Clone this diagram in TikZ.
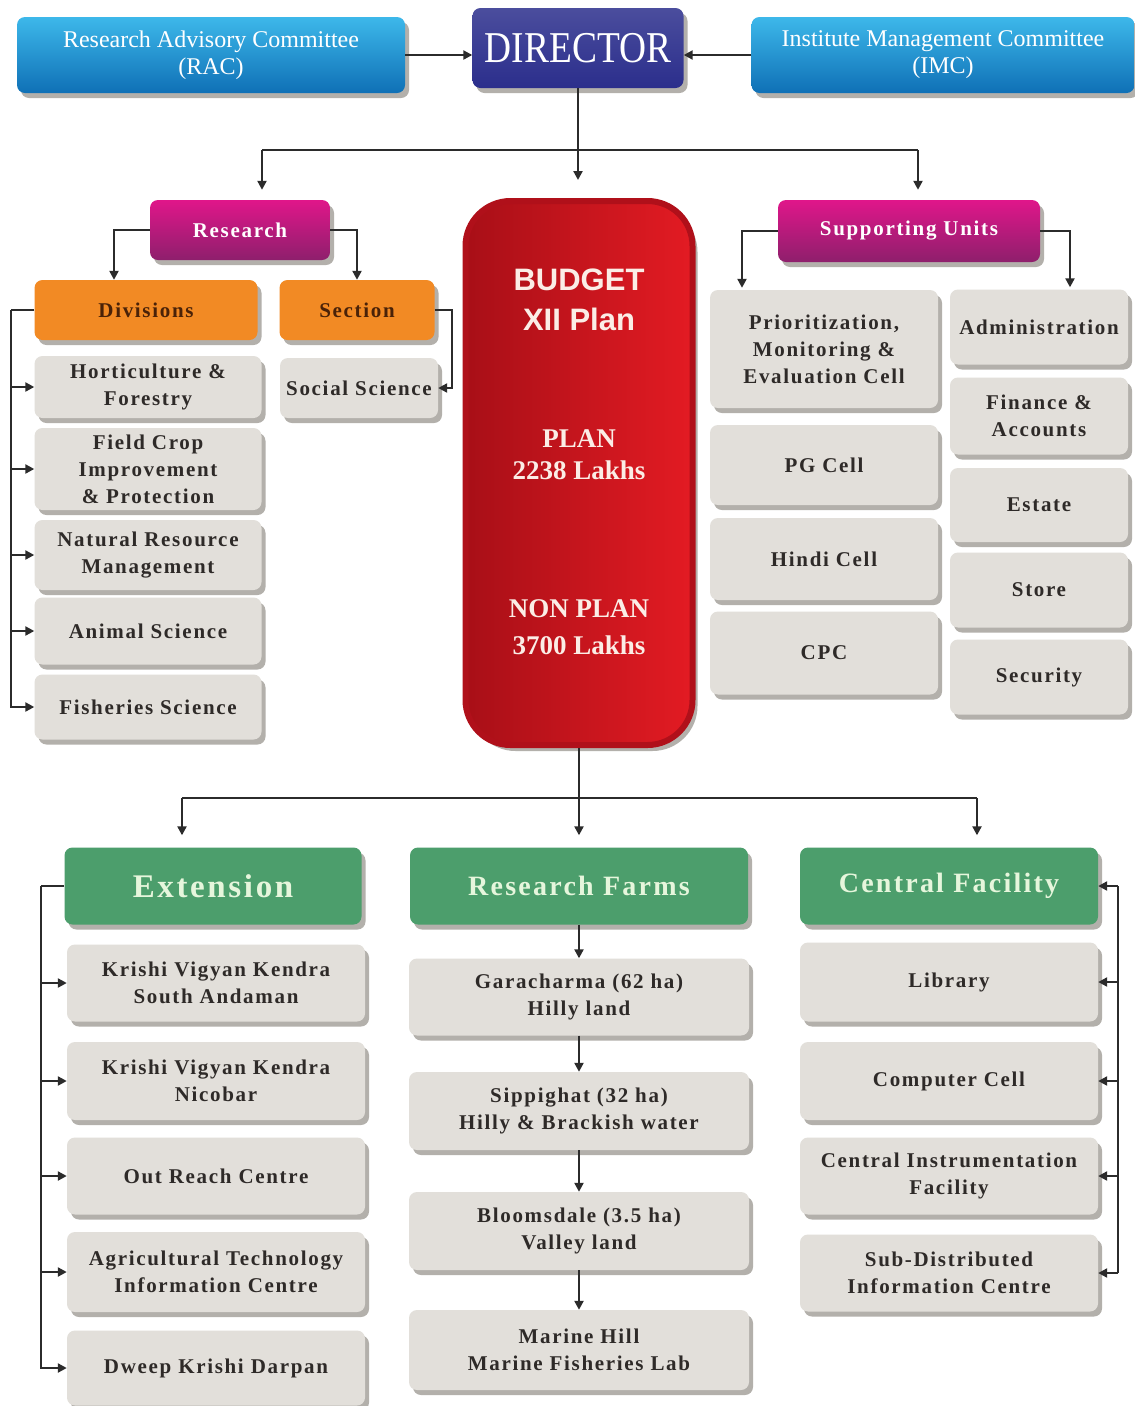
\documentclass[tikz,border=0pt]{standalone}
\usepackage{fontspec}
\usetikzlibrary{arrows.meta,shadows,calc}
\newfontfamily\bodyf[LetterSpace=8]{Liberation Serif}
\newfontfamily\topf{Liberation Serif}
\newfontfamily\dirf[FakeStretch=0.85]{Liberation Serif}
\newfontfamily\budf{Liberation Sans}
\definecolor{boxgray}{HTML}{E2DFDA}
\definecolor{shadowc}{HTML}{B3B0AB}
\definecolor{textdark}{HTML}{2E2A28}
\definecolor{linec}{HTML}{2B2B2B}
\definecolor{bluetop}{HTML}{3DB8EA}
\definecolor{bluebot}{HTML}{0F70B6}
\definecolor{navy}{HTML}{2B2E8C}
\definecolor{magtop}{HTML}{E0168A}
\definecolor{magbot}{HTML}{8E1F6C}
\definecolor{orangec}{HTML}{F28A24}
\definecolor{divtext}{HTML}{4A2208}
\definecolor{greenc}{HTML}{4C9E6C}
\definecolor{greentext}{HTML}{E6F6DC}
\definecolor{redl}{HTML}{A80F17}
\definecolor{redr}{HTML}{E31B23}
\definecolor{redborder}{HTML}{B0101A}
\definecolor{budtextc}{HTML}{FBEDE6}
\begin{document}
\begin{tikzpicture}[x=1pt,y=-1pt,
  base/.style={rounded corners=8pt, inner sep=0pt, align=center,
    drop shadow={shadow xshift=4pt,shadow yshift=-5pt,fill=shadowc,opacity=1}},
  gbox/.style={base, fill=boxgray, text=textdark,
    font=\bodyf\bfseries\fontsize{21}{27}\selectfont},
  bluebox/.style={base, top color=bluetop, bottom color=bluebot, text=white,
    font=\topf\fontsize{24}{27}\selectfont},
  magbox/.style={base, top color=magtop, bottom color=magbot, text=white,
    font=\bodyf\bfseries\fontsize{21}{27}\selectfont},
  orbox/.style={base, fill=orangec, text=divtext,
    font=\bodyf\bfseries\fontsize{21}{27}\selectfont},
  grbox/.style={base, fill=greenc, text=greentext,
    font=\bodyf\bfseries\fontsize{28}{32}\selectfont},
  budtext/.style={text=budtextc, align=center, inner sep=0pt},
  conn/.style={draw=linec, line width=2.2pt},
  arr/.style={conn, -{Triangle[length=9pt,width=9pt]}}
]
\useasboundingbox (0,0) rectangle (1135,1406);
\fill[white] (0,0) rectangle (1135,1406);

% top row
\node[bluebox, minimum width=388pt, minimum height=76pt] (rac) at (211,55) {Research Advisory Committee\\(RAC)};
\node[base, top color=navy!85!white, bottom color=navy, text=white, minimum width=211pt, minimum height=80pt,
  font=\dirf\fontsize{44}{44}\selectfont] (director) at (578,48) {DIRECTOR};
\node[bluebox, minimum width=383pt, minimum height=76pt] (imc) at (943,55) {Institute Management Committee\\(IMC)};

% research side
\node[magbox, minimum width=180pt, minimum height=60pt] (research) at (240,230) {Research};
\node[orbox, minimum width=223pt, minimum height=60pt] (divisions) at (146,310) {Divisions};
\node[orbox, minimum width=155pt, minimum height=60pt] (section) at (357,310) {Section};
\node[gbox, minimum width=158pt, minimum height=60pt] (social) at (359,388) {Social Science};
\node[gbox, minimum width=227pt, minimum height=62pt] (hort) at (148,387) {Horticulture \&\\Forestry};
\node[gbox, minimum width=227pt, minimum height=82pt] (field) at (148,469) {Field Crop\\Improvement\\\& Protection};
\node[gbox, minimum width=227pt, minimum height=70pt] (nrm) at (148,555) {Natural Resource\\Management};
\node[gbox, minimum width=227pt, minimum height=67pt] (animal) at (148,631) {Animal Science};
\node[gbox, minimum width=227pt, minimum height=65pt] (fish) at (148,707) {Fisheries Science};

% budget
\node[draw=redborder, line width=6pt, left color=redl, right color=redr, rounded corners=45pt,
  minimum width=227pt, minimum height=544pt,
  drop shadow={shadow xshift=5pt,shadow yshift=-6pt,fill=shadowc,opacity=1}] (budget) at (579,473) {};
\node[budtext, font=\budf\bfseries\fontsize{31}{40}\selectfont] (bud1) at (579,300) {BUDGET\\XII Plan};
\node[budtext, font=\topf\bfseries\fontsize{27}{32}\selectfont] (bud2) at (579,455) {PLAN\\2238 Lakhs};
\node[budtext, font=\topf\bfseries\fontsize{27}{37}\selectfont] (bud3) at (579,627) {NON PLAN\\3700 Lakhs};

% supporting units
\node[magbox, minimum width=262pt, minimum height=62pt] (support) at (909,231) {Supporting Units};
\node[gbox, minimum width=228pt, minimum height=118pt] (prio) at (824,349) {Prioritization,\\Monitoring \&\\Evaluation Cell};
\node[gbox, minimum width=228pt, minimum height=80pt] (pg) at (824,465) {PG Cell};
\node[gbox, minimum width=228pt, minimum height=82pt] (hindi) at (824,559) {Hindi Cell};
\node[gbox, minimum width=228pt, minimum height=83pt] (cpc) at (824,653) {CPC};
\node[gbox, minimum width=178pt, minimum height=75pt] (admin) at (1039,327) {Administration};
\node[gbox, minimum width=178pt, minimum height=77pt] (finance) at (1039,416) {Finance \&\\Accounts};
\node[gbox, minimum width=178pt, minimum height=74pt] (estate) at (1039,505) {Estate};
\node[gbox, minimum width=178pt, minimum height=75pt] (store) at (1039,590) {Store};
\node[gbox, minimum width=178pt, minimum height=75pt] (security) at (1039,677) {Security};

% bottom headings
\node[grbox, minimum width=297pt, minimum height=77pt, font=\bodyf\bfseries\fontsize{33}{36}\selectfont] (ext) at (213,886) {Extension};
\node[grbox, minimum width=338pt, minimum height=77pt] (rf) at (579,886) {Research Farms};
\node[grbox, minimum width=298pt, minimum height=77pt] (cf) at (949,886) {Central Facility};

% extension children
\node[gbox, minimum width=298pt, minimum height=77pt] (kvksa) at (216,983) {Krishi Vigyan Kendra\\South Andaman};
\node[gbox, minimum width=298pt, minimum height=78pt] (kvkn) at (216,1081) {Krishi Vigyan Kendra\\Nicobar};
\node[gbox, minimum width=298pt, minimum height=77pt] (orc) at (216,1176) {Out Reach Centre};
\node[gbox, minimum width=298pt, minimum height=80pt] (atic) at (216,1272) {Agricultural Technology\\Information Centre};
\node[gbox, minimum width=298pt, minimum height=75pt] (dweep) at (216,1368) {Dweep Krishi Darpan};

% research farms children
\node[gbox, minimum width=340pt, minimum height=77pt] (gara) at (579,997) {Garacharma (62 ha)\\Hilly land};
\node[gbox, minimum width=340pt, minimum height=78pt] (sippi) at (579,1111) {Sippighat (32 ha)\\Hilly \& Brackish water};
\node[gbox, minimum width=340pt, minimum height=78pt] (bloom) at (579,1231) {Bloomsdale (3.5 ha)\\Valley land};
\node[gbox, minimum width=340pt, minimum height=80pt] (marine) at (579,1350) {Marine Hill\\Marine Fisheries Lab};

% central facility children
\node[gbox, minimum width=298pt, minimum height=79pt] (lib) at (949,982) {Library};
\node[gbox, minimum width=298pt, minimum height=78pt] (comp) at (949,1081) {Computer Cell};
\node[gbox, minimum width=298pt, minimum height=77pt] (cif) at (949,1176) {Central Instrumentation\\Facility};
\node[gbox, minimum width=298pt, minimum height=77pt] (sdic) at (949,1273) {Sub-Distributed\\Information Centre};

% ---- connectors ----
\draw[arr] (rac.east) -- (rac.east -| director.west);
\draw[arr] (imc.west) -- (imc.west -| director.east);
\draw[arr] (director.south) -- ([yshift=18pt]director.south |- budget.north);
\coordinate (topbus) at (director.south |- 0,150);
\draw[conn] ([xshift=22pt]research.north |- topbus) -- ([xshift=9pt]support.north |- topbus);
\draw[arr] ([xshift=22pt]research.north |- topbus) -- ([xshift=22pt,yshift=10pt]research.north);
\draw[arr] ([xshift=9pt]support.north |- topbus) -- ([xshift=9pt,yshift=10pt]support.north);

\draw[arr] (research.west) -| ([xshift=-32pt]divisions.north);
\draw[arr] (research.east) -| (section.north);
\draw[arr] (section.east) -- ++(17,0) |- (social.east);

\draw[conn] (divisions.west) -- ++(-23,0) coordinate (dv);
\draw[arr] (dv) |- (fish.west);
\draw[arr] (dv |- hort.west) -- (hort.west);
\draw[arr] (dv |- field.west) -- (field.west);
\draw[arr] (dv |- nrm.west) -- (nrm.west);
\draw[arr] (dv |- animal.west) -- (animal.west);

\draw[arr] (support.west) -| ([xshift=-82pt,yshift=2pt]prio.north);
\draw[arr] (support.east) -| ([xshift=31pt,yshift=2pt]admin.north);

% budget to bottom
\coordinate (botbus) at ($(budget.south)+(0,50)$);
\draw[conn] ([xshift=-31pt]ext.north |- botbus) -- ([xshift=28pt]cf.north |- botbus);
\draw[arr] (budget.south) -- ([yshift=12pt]budget.south |- rf.north);
\draw[arr] ([xshift=-31pt]ext.north |- botbus) -- ([xshift=-31pt,yshift=12pt]ext.north);
\draw[arr] ([xshift=28pt]cf.north |- botbus) -- ([xshift=28pt,yshift=12pt]cf.north);

% extension
\draw[conn] (ext.west) -- ++(-23,0) coordinate (ev);
\draw[arr] (ev) |- (dweep.west);
\draw[arr] (ev |- kvksa.west) -- (kvksa.west);
\draw[arr] (ev |- kvkn.west) -- (kvkn.west);
\draw[arr] (ev |- orc.west) -- (orc.west);
\draw[arr] (ev |- atic.west) -- (atic.west);

% research farms
\draw[arr] (rf.south) -- (gara.north);
\draw[arr] (gara.south) -- (sippi.north);
\draw[arr] (sippi.south) -- (bloom.north);
\draw[arr] (bloom.south) -- (marine.north);

% central facility
\coordinate (cv) at ($(cf.east)+(20,0)$);
\draw[conn] (cv) -- (cv |- sdic.east);
\draw[arr] (cv) -- (cf.east);
\draw[arr] (cv |- lib.east) -- (lib.east);
\draw[arr] (cv |- comp.east) -- (comp.east);
\draw[arr] (cv |- cif.east) -- (cif.east);
\draw[arr] (cv |- sdic.east) -- (sdic.east);
\end{tikzpicture}
\end{document}
